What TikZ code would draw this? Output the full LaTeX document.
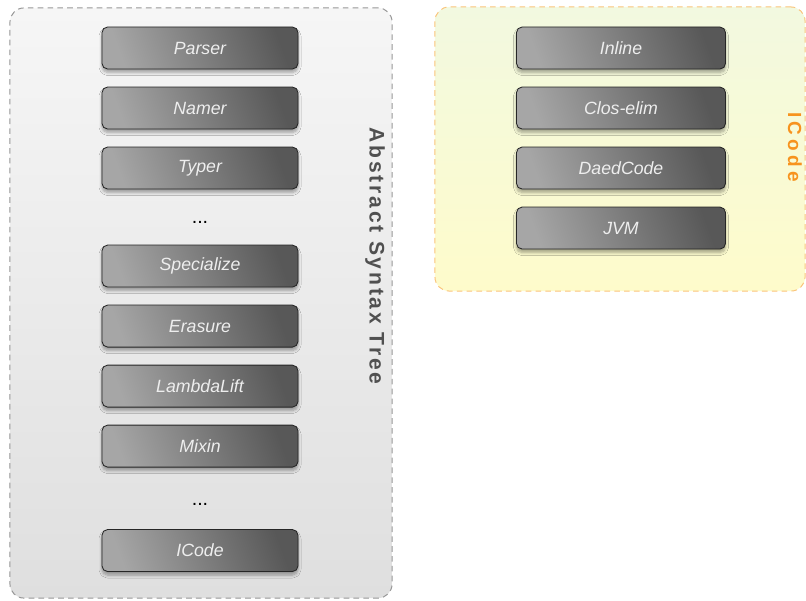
\documentclass[tikz,border=0pt]{standalone}
\usepackage{fontspec}
\setmainfont{Liberation Sans}
\setsansfont{Liberation Sans}
\usepackage{xcolor}
\definecolor{astfilltop}{RGB}{246, 246, 246}
\definecolor{astfillbot}{RGB}{223, 223, 223}
\definecolor{astline}{RGB}{150, 150, 150}
\definecolor{astlabel}{RGB}{ 80,  80,  80}
\definecolor{icfilltop}{RGB}{242, 249, 224}
\definecolor{icfillbot}{RGB}{254, 251, 203}
\definecolor{icline}{RGB}{250, 196, 122}
\definecolor{iclabel}{RGB}{247, 147,  30}
\definecolor{phaselight}{RGB}{166, 166, 166}
\definecolor{phasedark}{RGB}{ 88,  88,  88}
\definecolor{phasetext}{RGB}{238, 238, 238}
\usepackage{tikz}
\usetikzlibrary{positioning, shadows.blur}
\tikzset{
  astgroup/.style={draw=astline, top color=astfilltop, bottom color=astfillbot,
    dash pattern=on 4pt off 3pt, line width=0.7pt, rounded corners=10pt,
    minimum width=9.55cm, minimum height=14.75cm},
  icgroup/.style={draw=icline, top color=icfilltop, bottom color=icfillbot,
    dash pattern=on 4pt off 3pt, line width=0.7pt, rounded corners=10pt,
    minimum width=9.25cm, minimum height=7.1cm},
  phasebox/.style={draw=black!85, left color=phaselight, right color=phasedark,
    shading angle=110, rounded corners=4pt, line width=0.6pt, outer sep=0pt,
    minimum width=4.9cm, minimum height=1.05cm, inner sep=0pt,
    font=\fontsize{12.6}{15}\selectfont\itshape, text=phasetext,
    blur shadow={shadow xshift=0pt, shadow yshift=-2.5pt, shadow blur steps=6,
      shadow opacity=35}},
  icphase/.style={phasebox, minimum width=5.225cm},
  gapdots/.style={minimum height=0.5cm, inner sep=0pt, outer sep=0pt,
    text height=0.3cm, text depth=0pt, font=\fontsize{14}{16}\selectfont},
  grouplabel/.style={rotate=-90, font=\fontsize{15}{17}\selectfont\bfseries
    \addfontfeature{LetterSpace=13}}
}

\begin{document}
\begin{tikzpicture}[x=0.025cm, y=-0.025cm, node distance=0.45cm]
  \useasboundingbox (0,0) rectangle (806,600);

  \node[astgroup] (ast) at (201,303) {};
  \node[icgroup]  (ic)  at (620,149) {};

  \node[grouplabel, text=astlabel] (astname) at (375,256) {Abstract Syntax Tree};
  \node[grouplabel, text=iclabel, font=\fontsize{13.5}{15}\selectfont\bfseries
    \addfontfeature{LetterSpace=22}] (icname) at (795,147) {ICode};

  \node[phasebox] (parser) at (200,48) {Parser};
  \node[phasebox, below=of parser] (namer) {Namer};
  \node[phasebox, below=of namer]  (typer) {Typer};
  \node[gapdots,  below=of typer]  (dotsA) {...};
  \node[phasebox, below=of dotsA]  (specialize) {Specialize};
  \node[phasebox, below=of specialize] (erasure) {Erasure};
  \node[phasebox, below=of erasure] (lambdalift) {LambdaLift};
  \node[phasebox, below=of lambdalift] (mixin) {Mixin};
  \node[gapdots,  below=0.56cm of mixin] (dotsB) {...};
  \node[phasebox, below=0.5cm of dotsB]  (icode) {ICode};

  \node[icphase] (inline) at (621,48) {Inline};
  \node[icphase, below=of inline]  (closelim) {Clos-elim};
  \node[icphase, below=of closelim] (daedcode) {DaedCode};
  \node[icphase, below=of daedcode] (jvm) {JVM};

\end{tikzpicture}
\end{document}
